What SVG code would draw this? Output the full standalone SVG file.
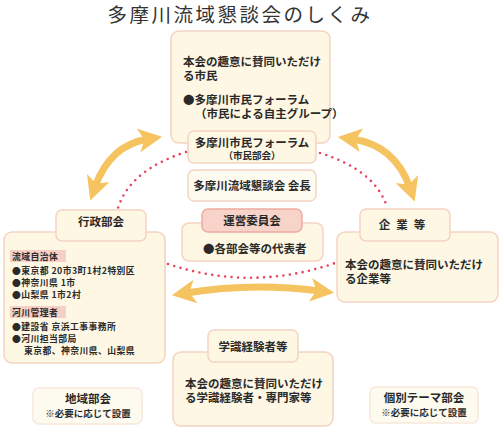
<svg xmlns="http://www.w3.org/2000/svg" width="500" height="427" viewBox="0 0 500 427">
<style>
text{font-family:"Noto Sans CJK JP","Noto Sans",sans-serif;fill:#2a2a2a;font-weight:600}
.box{fill:#fdf7e4;stroke:#f4d4c2;stroke-width:1.5}
.pink{fill:#f8d3c9;stroke:#eeaaa0;stroke-width:1.5}
.tag{fill:#f6cfc6}
.t{font-size:11.5px}
.s{font-size:9.5px}
.l{font-size:8.8px;letter-spacing:0.45px}
.arrow{fill:none;stroke:#f5c35f;stroke-width:7;stroke-linecap:round}
.dot{fill:none;stroke:#e8455c;stroke-width:2.6;stroke-linecap:round;stroke-dasharray:0 6.5}
</style>
<defs>
<marker id="ah" viewBox="0 0 10 10" refX="4" refY="5" markerWidth="3.4" markerHeight="3.8" orient="auto-start-reverse" markerUnits="strokeWidth">
<path d="M0,0 L10,5 L0,10 L2.5,5 Z" fill="#f5c35f"/>
</marker>
</defs>
<rect width="500" height="427" fill="#ffffff"/>
<text x="240" y="22" text-anchor="middle" style="font-size:19.5px;letter-spacing:2.5px;font-weight:400;fill:#333">多摩川流域懇談会のしくみ</text>

<g id="connectors">
<path class="dot" d="M186,152 Q130,170 118,208"/>
<path class="dot" d="M320,153 Q375,170 387,207"/>
<path class="dot" d="M168,264 Q252,292 335,263"/>
<path class="arrow" d="M95,187 Q110,145 148,139" marker-start="url(#ah)" marker-end="url(#ah)"/>
<path class="arrow" d="M352,139 Q395,145 410,188" marker-start="url(#ah)" marker-end="url(#ah)"/>
<path class="arrow" d="M186,293 Q252,282 320,291" marker-start="url(#ah)" marker-end="url(#ah)"/>
</g>

<g id="citizens">
<rect class="box" x="171" y="31" width="159" height="112" rx="8"/>
<text class="t" x="183" y="66">本会の趣意に賛同いただけ</text>
<text class="t" x="183" y="80">る市民</text>
<text class="t" x="183" y="104">●多摩川市民フォーラム</text>
<text class="t" x="195" y="118">（市民による自主グループ）</text>
</g>

<g id="forum">
<rect class="box" x="188" y="131" width="128" height="32" rx="6"/>
<text class="t" x="252" y="147" text-anchor="middle">多摩川市民フォーラム</text>
<text class="s" x="252" y="159" text-anchor="middle">（市民部会）</text>
</g>

<g id="chair">
<rect class="box" x="188" y="170" width="128" height="31" rx="6" style="fill:#fdfaf0"/>
<text class="t" x="252" y="190" text-anchor="middle">多摩川流域懇談会 会長</text>
</g>

<g id="steering">
<rect class="box" x="182" y="223" width="141" height="38" rx="7"/>
<rect class="pink" x="202" y="209" width="100" height="23" rx="6"/>
<text class="t" x="252" y="225" text-anchor="middle" style="font-weight:700">運営委員会</text>
<text class="t" x="203" y="253">●各部会等の代表者</text>
</g>

<g id="gyosei">
<rect class="box" x="4" y="232" width="161" height="131" rx="8"/>
<rect class="box" x="56" y="210" width="90" height="31" rx="6"/>
<text class="t" x="101" y="226" text-anchor="middle">行政部会</text>
<rect class="tag" x="10" y="250" width="56" height="12"/>
<text class="l" x="12" y="260">流域自治体</text>
<text class="l" x="12" y="274">●東京都 20市3町1村2特別区</text>
<text class="l" x="12" y="286">●神奈川県 1市</text>
<text class="l" x="12" y="298">●山梨県 1市2村</text>
<rect class="tag" x="10" y="306" width="56" height="12"/>
<text class="l" x="12" y="316">河川管理者</text>
<text class="l" x="12" y="330">●建設省 京浜工事事務所</text>
<text class="l" x="12" y="342">●河川担当部局</text>
<text class="l" x="24" y="354">東京都、神奈川県、山梨県</text>
</g>

<g id="kigyo">
<rect class="box" x="337" y="232" width="161" height="70" rx="8"/>
<rect class="box" x="360" y="209" width="90" height="32" rx="6"/>
<text class="t" x="405" y="229" text-anchor="middle" style="letter-spacing:6px">企業等</text>
<text class="t" x="345" y="269">本会の趣意に賛同いただけ</text>
<text class="t" x="345" y="283">る企業等</text>
</g>

<g id="gakushiki">
<rect class="box" x="173" y="352" width="160" height="74" rx="8"/>
<rect class="box" x="208" y="330" width="90" height="32" rx="6"/>
<text class="t" x="253" y="351" text-anchor="middle">学識経験者等</text>
<text class="t" x="185" y="388">本会の趣意に賛同いただけ</text>
<text class="t" x="185" y="402">る学識経験者・専門家等</text>
</g>

<g id="chiiki">
<rect class="box" x="33" y="388" width="109" height="36" rx="6" style="fill:#fdfaf0;stroke:#f8e8dc"/>
<text class="t" x="88" y="403" text-anchor="middle">地域部会</text>
<text class="s" x="88" y="417" text-anchor="middle">※必要に応じて設置</text>
</g>

<g id="kobetsu">
<rect class="box" x="370" y="387" width="108" height="36" rx="6" style="fill:#fdfaf0;stroke:#f8e8dc"/>
<text class="t" x="424" y="402" text-anchor="middle">個別テーマ部会</text>
<text class="s" x="424" y="416" text-anchor="middle">※必要に応じて設置</text>
</g>
</svg>
